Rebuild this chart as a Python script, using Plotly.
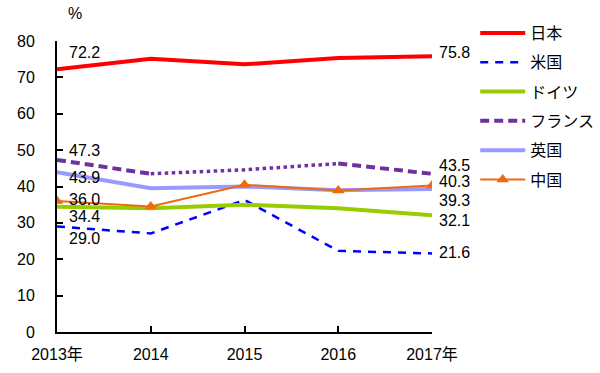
import plotly.graph_objects as go

years = [2013, 2014, 2015, 2016, 2017]
tick_labels = ["2013年", "2014", "2015", "2016", "2017年"]

japan = [72.2, 75.1, 73.6, 75.3, 75.8]
usa = [29.0, 27.1, 36.3, 22.3, 21.6]
germany = [34.4, 34.0, 35.0, 34.0, 32.1]
france = [47.3, 43.5, 44.6, 46.3, 43.5]
uk = [43.9, 39.5, 40.0, 39.0, 39.3]
china = [36.0, 34.5, 40.5, 38.9, 40.3]

FONT = "Liberation Sans, Arial, Noto Sans CJK JP, sans-serif"

fig = go.Figure()

def add(name, x, y, color, width, dash="solid", showlegend=True, group=None, marker=None):
    kw = dict(x=x, y=y, name=name, mode="lines", line=dict(color=color, width=width, dash=dash),
              showlegend=showlegend, legendgroup=group or name, hoverinfo="skip")
    if marker:
        kw["mode"] = "lines+markers"
        kw["marker"] = marker
    fig.add_trace(go.Scatter(**kw))

add("日本", years, japan, "#ff0000", 4)
add("米国", years, usa, "#0000ff", 2.5, dash="8px,7px")
add("ドイツ", years, germany, "#99cc00", 4)
# France: dashed 2013-14, dotted 2014-16, dashed 2016-17
add("フランス", years[0:2], france[0:2], "#7030a0", 4, dash="9px,5px", group="fr")
add("フランス", years[1:4], france[1:4], "#7030a0", 3.5, dash="dot", showlegend=False, group="fr")
add("フランス", years[3:5], france[3:5], "#7030a0", 4, dash="9px,5px", showlegend=False, group="fr")
add("英国", years, uk, "#9999ff", 4)
add("中国", years, china, "#ee6a10", 2, marker=dict(symbol="triangle-up", size=11, color="#ee6a10"))

# data labels at ends
left_vals = [japan[0], france[0], uk[0], china[0], germany[0], usa[0]]
left_shift = [17, 9, -5, 2, -10, -12]
for v, s in zip(left_vals, left_shift):
    fig.add_annotation(x=years[0], y=v, text=f"{v:.1f}", showarrow=False, xanchor="left",
                       xshift=10, yshift=s, font=dict(size=16, color="black", family=FONT))
right_vals = [japan[-1], france[-1], china[-1], uk[-1], germany[-1], usa[-1]]
right_shift = [4, 8, 4, -11, -5, 1]
for v, s in zip(right_vals, right_shift):
    fig.add_annotation(x=years[-1], y=v, text=f"{v:.1f}", showarrow=False, xanchor="left",
                       xshift=5, yshift=s, font=dict(size=16, color="black", family=FONT))

fig.add_annotation(x=0.048, y=1.0, xref="paper", yref="paper", xanchor="center", yanchor="middle",
                   yshift=28, text="%", showarrow=False,
                   font=dict(size=16, color="black", family=FONT))

fig.update_layout(
    width=600, height=373,
    margin=dict(l=57, r=168, t=41, b=41, autoexpand=False),
    plot_bgcolor="white", paper_bgcolor="white",
    font=dict(family=FONT, size=16, color="black"),
    legend=dict(x=0.792, y=0.957, xref="container", yref="container",
                xanchor="left", yanchor="top", tracegroupgap=5.5,
                itemwidth=45,
                font=dict(size=16, family=FONT), bgcolor="rgba(0,0,0,0)"),
    xaxis=dict(range=[2013, 2017], tickvals=years, ticktext=tick_labels, showgrid=False,
               showline=True, linecolor="black", linewidth=2, ticks="inside", ticklen=6,
               tickcolor="black", tickwidth=1.5, zeroline=False, tickfont=dict(size=16),
               ticklabelstandoff=7),
    yaxis=dict(range=[0, 80], dtick=10, showgrid=False, showline=True, linecolor="black",
               linewidth=2, ticks="inside", ticklen=6, tickcolor="black", tickwidth=1.5,
               zeroline=False, tickfont=dict(size=16), ticklabelstandoff=17),
)

fig.write_html("out.html", config={"displayModeBar": False},
               post_script="document.body.style.margin='0';")
